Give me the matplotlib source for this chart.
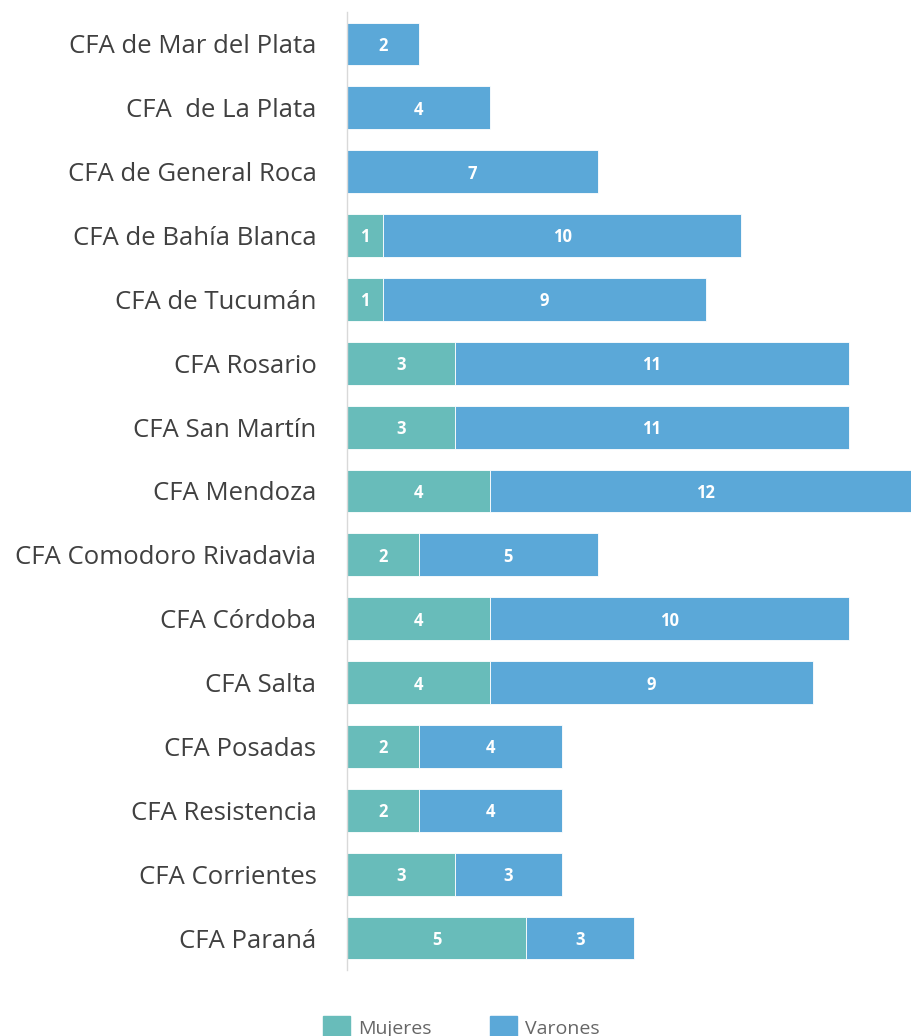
import matplotlib.pyplot as plt
from matplotlib.patches import Patch

centros = ['CFA de Mar del Plata', 'CFA  de La Plata', 'CFA de General Roca',
           'CFA de Bahía Blanca', 'CFA de Tucumán', 'CFA Rosario', 'CFA San Martín',
           'CFA Mendoza', 'CFA Comodoro Rivadavia', 'CFA Córdoba', 'CFA Salta',
           'CFA Posadas', 'CFA Resistencia', 'CFA Corrientes', 'CFA Paraná']
mujeres = [0, 0, 0, 1, 1, 3, 3, 4, 2, 4, 4, 2, 2, 3, 5]
varones = [2, 4, 7, 10, 9, 11, 11, 12, 5, 10, 9, 4, 4, 3, 3]

c_muj = '#68bcba'
c_var = '#5ba8d8'

fig = plt.figure(figsize=(9.12, 10.36), dpi=100)
ax = fig.add_axes([347 / 912, 1 - 970 / 1036, 1 - 347 / 912, 958 / 1036])

y = list(range(len(centros)))
h = 0.67
b1 = ax.barh(y, mujeres, height=h, color=c_muj, edgecolor='white', linewidth=0.6)
b2 = ax.barh(y, varones, left=mujeres, height=h, color=c_var, edgecolor='white', linewidth=0.6)

for bars, vals, lefts in [(b1, mujeres, [0] * len(mujeres)), (b2, varones, mujeres)]:
    for yy, v, l in zip(y, vals, lefts):
        if v > 0:
            ax.text(l + v / 2, yy + 0.03, str(v), ha='center', va='center',
                    color='white', fontsize=12, fontweight='bold', family='Open Sans')

ax.set_xlim(0, 15.76)
ax.set_ylim(14.5, -0.5)
ax.set_yticks(y)
ax.set_yticklabels(centros, family='Open Sans', fontsize=18.5, color='#404040')
ax.tick_params(axis='y', length=0, pad=22)
ax.set_xticks([])
for s in ['top', 'right', 'bottom']:
    ax.spines[s].set_visible(False)
ax.spines['left'].set_color('#d9d9d9')
ax.spines['left'].set_linewidth(1)

handles = [Patch(color=c_muj, label='Mujeres'), Patch(color=c_var, label='Varones')]
fig.legend(handles=handles, loc='center', bbox_to_anchor=(0.5055, 0.0085), ncol=2,
           frameon=False, handlelength=1.4, handleheight=1.4, columnspacing=3.0,
           handletextpad=0.4, prop={'family': 'Open Sans', 'size': 14}, labelcolor='#666666')

fig.savefig('out.png', dpi=100)
